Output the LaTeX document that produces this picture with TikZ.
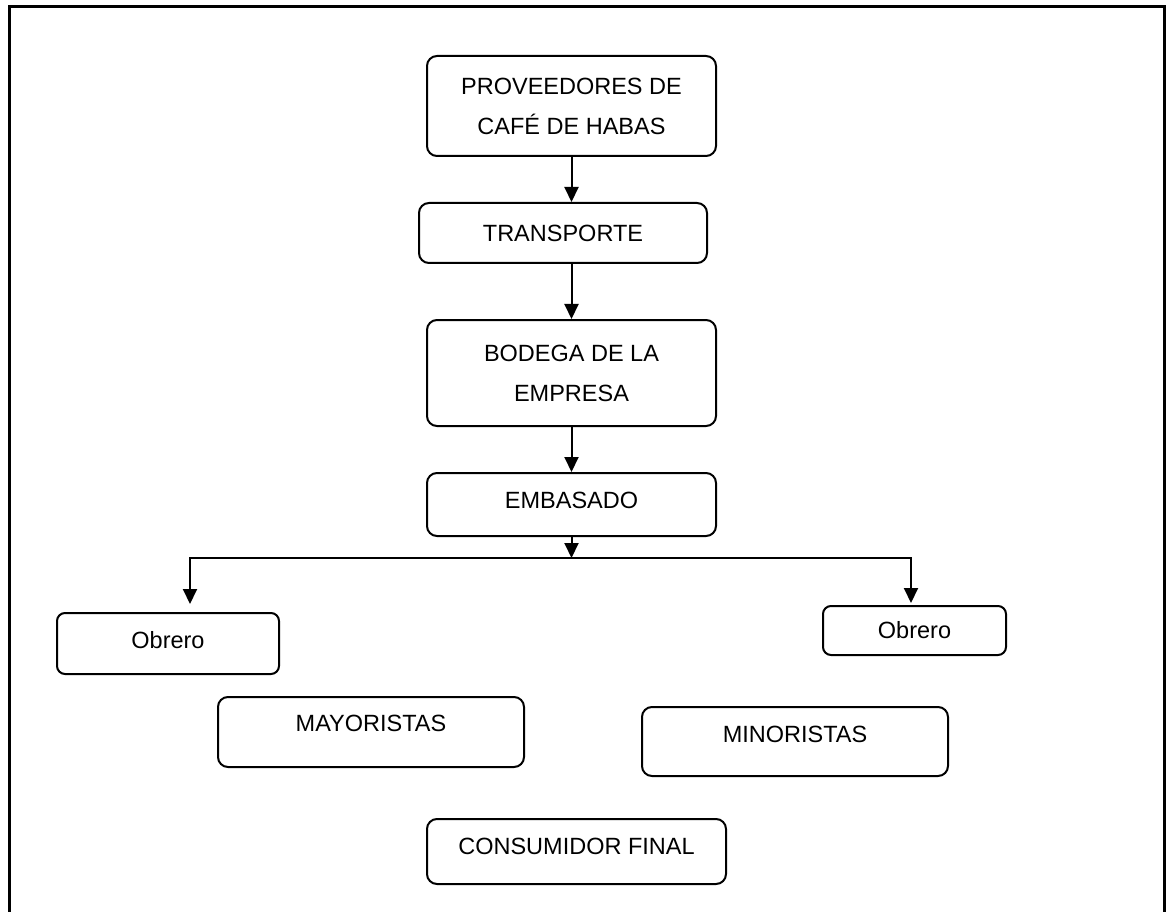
\documentclass[tikz,border=0pt]{standalone}
\usepackage{fontspec}
\setmainfont{Liberation Sans}
\usetikzlibrary{arrows.meta}
\begin{document}
\begin{tikzpicture}[x=1pt,y=1pt,
  box/.style={draw, line width=2pt, rounded corners=10pt, inner sep=0pt, align=center,
              font=\fontsize{23.5}{40}\selectfont},
  one/.style={text height=16.8pt, text depth=#1},
  arr/.style={line width=2pt, -{Triangle[width=14pt,length=15pt]}},
  frame/.style={line width=3pt}]
\useasboundingbox (0,0) rectangle (1168,-912);
\draw[frame] (9,-915) -- (9,-7) -- (1164,-7) -- (1164,-915);

\node[box, minimum width=289pt, minimum height=100pt] (prov) at (571.5,-106) {PROVEEDORES DE\\CAFÉ DE HABAS};
\node[box, one=0pt, minimum width=288pt, minimum height=60pt] (trans) at (563,-233) {TRANSPORTE};
\node[box, minimum width=289pt, minimum height=106pt] (bod) at (571.5,-373) {BODEGA DE LA\\EMPRESA};
\node[box, one=8pt, minimum width=289pt, minimum height=63pt] (emb) at (571.5,-504.5) {EMBASADO};
\node[box, one=7pt, rounded corners=8pt, minimum width=222pt, minimum height=61pt] (ob1) at (168,-643.5) {Obrero};
\node[box, one=0pt, rounded corners=8pt, minimum width=183pt, minimum height=49pt] (ob2) at (914.5,-630.5) {Obrero};
\node[box, one=18pt, minimum width=306pt, minimum height=70pt] (may) at (371,-732) {MAYORISTAS};
\node[box, one=15pt, minimum width=306pt, minimum height=69pt] (min) at (795,-741.5) {MINORISTAS};
\node[box, one=11pt, minimum width=299pt, minimum height=65pt] (cons) at (576.5,-851.5) {CONSUMIDOR FINAL};

\coordinate (split) at (571.5,-558);
\coordinate (hl) at (190,-558);
\coordinate (hr) at (911,-558);

\draw[arr] (prov.south) -- (prov.south |- trans.north);
\draw[arr] (prov.south |- trans.south) -- (prov.south |- bod.north);
\draw[arr] (bod.south) -- (emb.north);
\draw[arr] (emb.south) -- (split);
\draw[arr, shorten >=8pt] (split) -- (hl) -- (hl |- ob1.north);
\draw[arr, shorten >=2pt] (split) -- (hr) -- (hr |- ob2.north);
\end{tikzpicture}
\end{document}
